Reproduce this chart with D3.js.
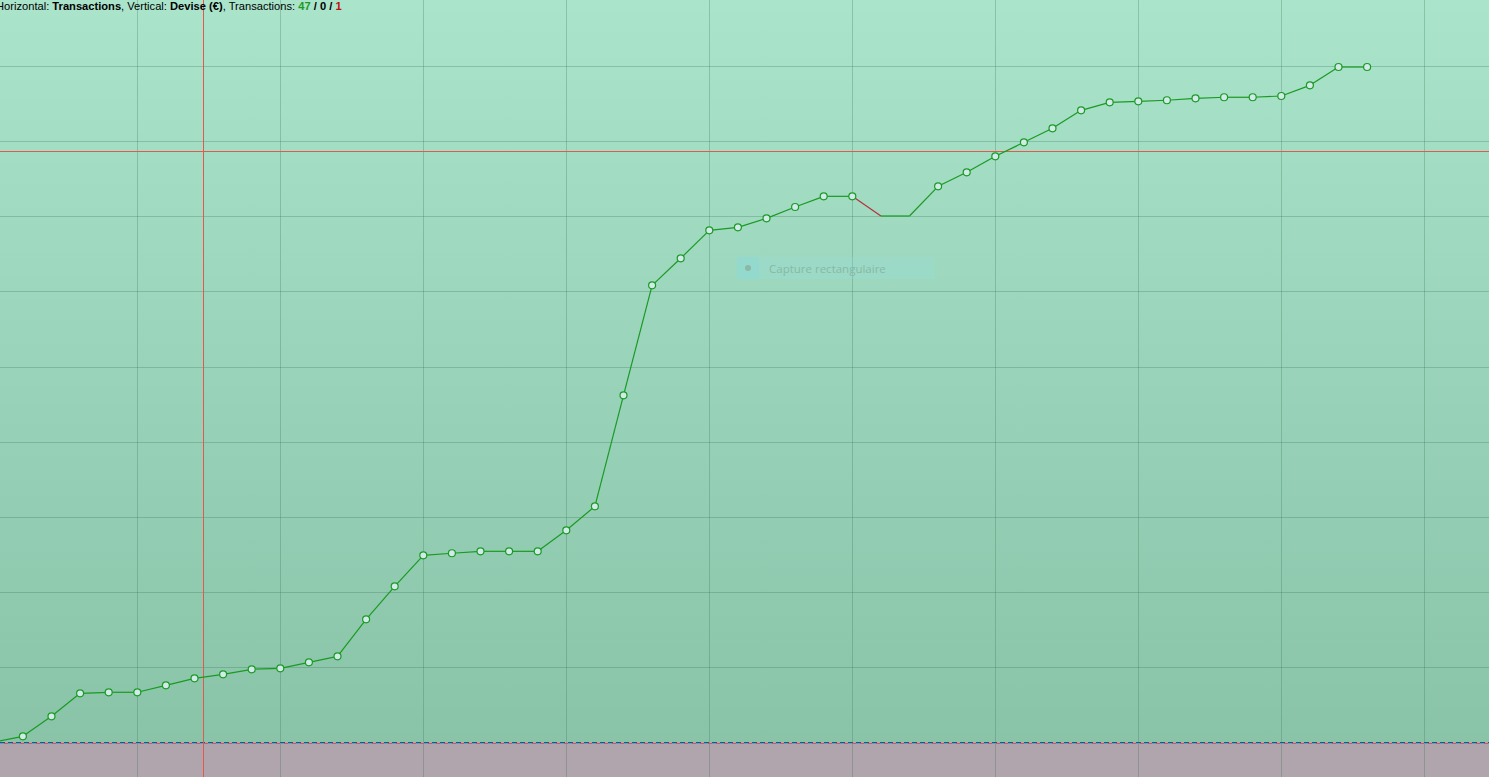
<!DOCTYPE html>
<html>
<head>
<meta charset="utf-8">
<script src="https://cdn.jsdelivr.net/npm/d3@7"></script>
<style>
html,body{margin:0;padding:0;overflow:hidden;background:#b0a4ad;}
svg{display:block;}
</style>
</head>
<body>
<svg id="chart" width="1489" height="777"></svg>
<script>
// ---- data ----
const transactions = d3.range(0, 49);
const balance = [0, 76, 342, 648, 662, 662, 755, 848, 901, 968,
  981, 1061, 1141, 1634, 2073, 2486, 2513, 2539, 2539, 2539,
  2819, 3138, 4616, 6081, 6441, 6813, 6853, 6973, 7124, 7266,
  7266, 7004, 7004, 7399, 7586, 7799, 7985, 8172, 8411, 8518,
  8531, 8545, 8571, 8585, 8585, 8602, 8744, 8988, 8988];
const noMarker = [0, 31, 32];
const xTicks = [5, 10, 15, 20, 25, 30, 35, 40, 45, 50];
const yTicks = [1000, 2000, 3000, 4000, 5000, 6000, 7000, 8000, 9000];
const crossX = 7.3, crossY = 7866;
const counts = {pos: 47, zero: 0, neg: 1};

const W = 1489, H = 777;
const svg = d3.select("#chart");
const x = d3.scaleLinear().domain([0, 48]).range([-5.7, 1367.1]);
const y = d3.scaleLinear().domain([0, 1000]).range([742, 666.9]);

const defs = svg.append("defs");
const grad = defs.append("linearGradient").attr("id", "bg").attr("x1", 0).attr("x2", 0).attr("y1", 0).attr("y2", 1);
grad.append("stop").attr("offset", "0%").attr("stop-color", "#a9e4cb");
grad.append("stop").attr("offset", "100%").attr("stop-color", "#89c4a9");

svg.append("rect").attr("x", 0).attr("y", 0).attr("width", W).attr("height", y(0)).attr("fill", "url(#bg)");
svg.append("rect").attr("x", 0).attr("y", y(0)).attr("width", W).attr("height", H - y(0)).attr("fill", "#b0a4ad");

// grid
const grid = svg.append("g").attr("stroke", "rgba(50,110,80,0.28)").attr("stroke-width", 1);
grid.selectAll("line.v").data(xTicks).join("line")
  .attr("x1", d => Math.round(x(d)) + 0.5).attr("x2", d => Math.round(x(d)) + 0.5)
  .attr("y1", 0).attr("y2", H);
grid.selectAll("line.h").data(yTicks).join("line")
  .attr("y1", d => Math.round(y(d)) + 0.5).attr("y2", d => Math.round(y(d)) + 0.5)
  .attr("x1", 0).attr("x2", W);

// baseline
const by = Math.round(y(0)) + 0.5;
svg.append("line").attr("x1", 0).attr("x2", W).attr("y1", by + 1).attr("y2", by + 1)
  .attr("stroke", "#5fb64f").attr("stroke-width", 1).attr("stroke-dasharray", "4,4");
svg.append("line").attr("x1", 0).attr("x2", W).attr("y1", by + 1).attr("y2", by + 1)
  .attr("stroke", "#c86050").attr("stroke-width", 1).attr("stroke-dasharray", "4,4").attr("stroke-dashoffset", 4);
svg.append("line").attr("x1", 0).attr("x2", W).attr("y1", by).attr("y2", by)
  .attr("stroke", "#2a3cf0").attr("stroke-width", 1).attr("stroke-dasharray", "5,3");

// crosshair
svg.append("line").attr("x1", Math.round(x(crossX)) + 0.5).attr("x2", Math.round(x(crossX)) + 0.5)
  .attr("y1", 0).attr("y2", H).attr("stroke", "#e35a4c").attr("stroke-width", 1);
svg.append("line").attr("y1", Math.round(y(crossY)) + 0.5).attr("y2", Math.round(y(crossY)) + 0.5)
  .attr("x1", 0).attr("x2", W).attr("stroke", "#e35a4c").attr("stroke-width", 1);

// segments
const segs = d3.range(1, balance.length).map(i => ({a: i - 1, b: i, d: balance[i] - balance[i - 1]}));
svg.append("g").selectAll("line").data(segs).join("line")
  .attr("x1", d => x(transactions[d.a])).attr("y1", d => y(balance[d.a]))
  .attr("x2", d => x(transactions[d.b])).attr("y2", d => y(balance[d.b]))
  .attr("stroke", d => d.d < 0 ? "#b8303a" : "#1a9a22")
  .attr("stroke-width", 1.2);

// markers
svg.append("g").selectAll("circle").data(transactions.filter(i => !noMarker.includes(i))).join("circle")
  .attr("cx", i => x(i)).attr("cy", i => y(balance[i])).attr("r", 3.5)
  .attr("fill", "#d2eaea").attr("stroke", "#1a9a22").attr("stroke-width", 1.2);

// overlay tooltip
const ov = svg.append("g");
ov.append("rect").attr("x", 737).attr("y", 257).attr("width", 198).attr("height", 22).attr("fill", "rgba(150,225,225,0.25)");
ov.append("rect").attr("x", 737).attr("y", 257).attr("width", 22).attr("height", 22).attr("fill", "rgba(140,215,215,0.45)");
ov.append("circle").attr("cx", 748).attr("cy", 268).attr("r", 3).attr("fill", "#8cb8a4");
ov.append("text").attr("x", 769).attr("y", 272.5).attr("font-family", "'Open Sans', 'Noto Sans', sans-serif")
  .attr("font-size", "11.5px").attr("fill", "#88b8a4").text("Capture rectangulaire");

// header text
const t = svg.append("text").attr("x", -4).attr("y", 10).attr("font-family", "'Liberation Sans', Arial, sans-serif")
  .attr("font-size", "11.15px").attr("fill", "#000");
t.append("tspan").text("Horizontal: ");
t.append("tspan").attr("font-weight", "bold").text("Transactions");
t.append("tspan").text(", Vertical: ");
t.append("tspan").attr("font-weight", "bold").text("Devise (€)");
t.append("tspan").text(", Transactions: ");
t.append("tspan").attr("font-weight", "bold").attr("fill", "#1f9a1f").text(String(counts.pos));
t.append("tspan").attr("font-weight", "bold").text(" / " + counts.zero + " / ");
t.append("tspan").attr("font-weight", "bold").attr("fill", "#c01010").text(String(counts.neg));
</script>
</body>
</html>
